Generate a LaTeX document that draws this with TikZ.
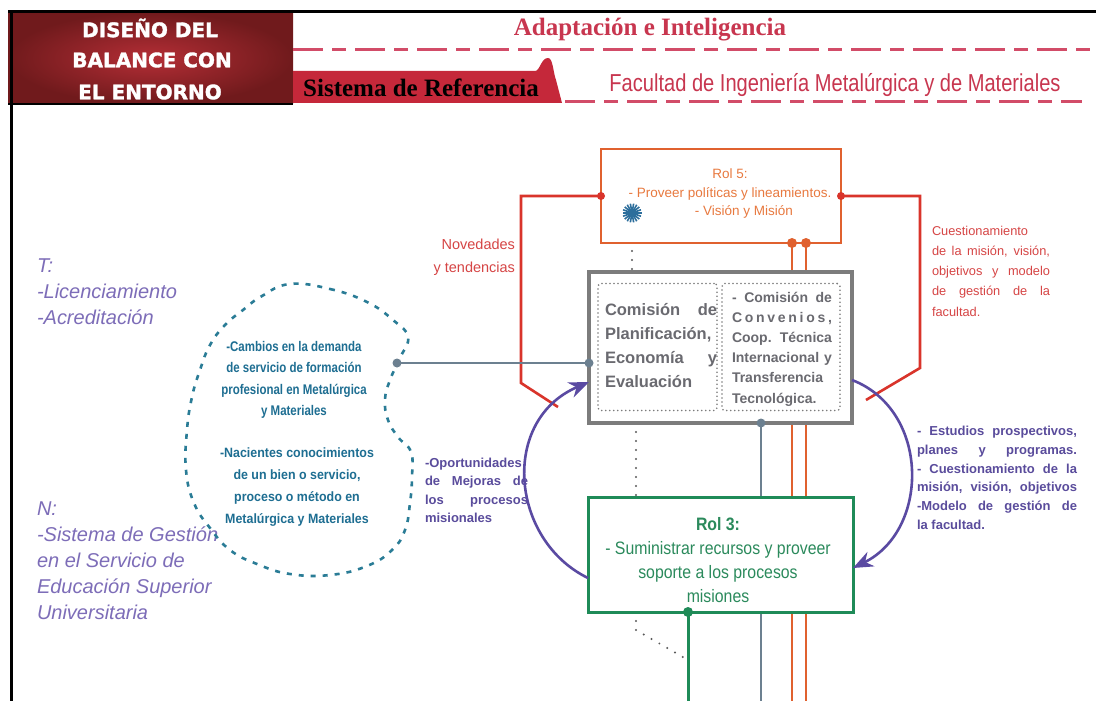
\documentclass[tikz,border=0pt]{standalone}
\usepackage{fontspec}
\setmainfont{Liberation Sans}
\newfontfamily\hdfont[FakeBold=1.6]{DejaVu Sans}
\newfontfamily\titleserif{Liberation Serif}
\newfontfamily\facfont[FakeStretch=0.82]{Liberation Sans}
\newfontfamily\condA[FakeStretch=0.82]{Liberation Sans}
\newfontfamily\condB[FakeStretch=0.92]{Liberation Sans}
\newfontfamily\rolfont[FakeStretch=0.88]{Liberation Sans}
\usetikzlibrary{arrows.meta}
\pgfdeclarelayer{bg}
\pgfsetlayers{bg,main}
\hyphenpenalty=10000

\definecolor{hddark}{HTML}{701A1C}
\definecolor{hdlight}{HTML}{B42E36}
\definecolor{crimson}{HTML}{C8364F}
\definecolor{dashpink}{HTML}{D24C68}
\definecolor{tabred}{HTML}{C5283A}
\definecolor{rolorange}{HTML}{E0612F}
\definecolor{roltext}{HTML}{E8793F}
\definecolor{linered}{HTML}{D9342B}
\definecolor{txtred}{HTML}{D64545}
\definecolor{boxgray}{HTML}{7C7C7C}
\definecolor{txtgray}{HTML}{6A6A70}
\definecolor{slateline}{HTML}{6C8090}
\definecolor{blobtext}{HTML}{1E6E92}
\definecolor{blobline}{HTML}{2A7C96}
\definecolor{lavender}{HTML}{7D6DB8}
\definecolor{violettext}{HTML}{5A4C9C}
\definecolor{arcviolet}{HTML}{5A4AA2}
\definecolor{rolgreen}{HTML}{1F8B58}
\definecolor{greentext}{HTML}{2B8A5C}
\definecolor{starblue}{HTML}{2C6E9C}

\begin{document}
\begin{tikzpicture}[x=1pt,y=-1pt,
  plain/.style={inner sep=0pt, outer sep=0pt},
  hdtext/.style={plain, text=white, font=\hdfont\bfseries\fontsize{20}{24}\selectfont},
  dashline/.style={dashpink, line width=3pt, dash pattern=on 30pt off 9pt on 14pt off 9pt},
  rolebox/.style={plain, draw, fill=white, line width=2.6pt},
  dotbox/.style={plain, draw=boxgray, line width=1.8pt, dash pattern=on 0pt off 4pt, line cap=round, rounded corners=3pt},
  dotline/.style={black!65, line width=2.2pt, dash pattern=on 0pt off 9pt, line cap=round},
  redline/.style={linered, line width=2.6pt},
  orangeline/.style={rolorange, line width=2.8pt},
  arcline/.style={arcviolet, line width=2.6pt, -{Stealth[length=20pt,width=16pt]}},
  sidetext/.style={plain, text=lavender, align=left, font=\itshape\fontsize{20}{26}\selectfont},
]
\useasboundingbox (0,0) rectangle (1096,701);
\begin{pgfonlayer}{bg}
  \fill[white] (0,0) rectangle (1096,701);
\end{pgfonlayer}

% ---------- header ----------
\shade[inner color=hdlight, outer color=hddark] (8,12) rectangle (293,104);
\node[hdtext] (h1) at (150,28) {DISEÑO DEL};
\node[hdtext] (h2) at (152,60) {BALANCE CON};
\node[hdtext] (h3) at (150,92) {EL ENTORNO};
\draw[line width=3pt] (8,12) -- (1096,12);
\draw[line width=3pt] (11,12) -- (11,701);
\draw[line width=2pt] (8,104) -- (293,104);

\node[plain, text=crimson, font=\titleserif\bfseries\fontsize{25}{29}\selectfont] (title) at (650,30) {Adaptación e Inteligencia};
\draw[dashline] (293,50) -- (1096,50);

\fill[tabred] (293,71) -- (535,71) .. controls (540,71) and (541,58) .. (548,58)
  .. controls (553,58) and (553,72) .. (556,80) -- (562,103) -- (293,103) -- cycle;
\node[plain, text=black, font=\titleserif\bfseries\fontsize{25}{29}\selectfont] (ref) at (421,88) {Sistema de Referencia};
\node[plain, text=crimson, font=\facfont\fontsize{24.5}{28}\selectfont] (fac) at (835,85) {Facultad de Ingeniería Metalúrgica y de Materiales};
\draw[dashline] (565,102) -- (1082,102);

% ---------- boxes ----------
\node[rolebox, draw=rolorange, minimum width=240pt, minimum height=94pt] (r5) at (721,196) {};
\node[plain, align=center, text=roltext, font=\fontsize{13.5}{18.5}\selectfont] (r5txt) at (730,194)
  {Rol 5:\\- Proveer políticas y lineamientos.\\\hspace*{28pt}- Visión y Misión};

\node[plain, draw=boxgray, fill=white, line width=3.6pt, minimum width=263pt, minimum height=151pt] (gb) at (720.5,347.5) {};
\node[dotbox, minimum width=119pt, minimum height=127pt] (gbl) at (657.5,347) {};
\node[dotbox, minimum width=118pt, minimum height=127pt] (gbr) at (781,347) {};
\node[plain, text width=112pt, align=justify, text=txtgray, font=\bfseries\fontsize{16.5}{24}\selectfont] (gbltxt) at (661,346)
  {Comisión de\linebreak Planificación,\linebreak Economía y\linebreak Evaluación};
\node[plain, text width=100pt, align=justify, text=txtgray, font=\bfseries\fontsize{14}{20.2}\selectfont] (gbrtxt) at (782,349)
  {- Comisión de\linebreak C\hfil o\hfil n\hfil v\hfil e\hfil n\hfil i\hfil o\hfil s\hfil ,\linebreak Coop. Técnica\linebreak Internacional y\linebreak Transferencia\linebreak Tecnológica.};

\node[rolebox, draw=rolgreen, line width=3pt, minimum width=265pt, minimum height=115pt] (r3) at (720.5,554.5) {};
\node[plain, align=center, text=greentext, font=\rolfont\fontsize{18}{24}\selectfont] (r3txt) at (718,560)
  {\textbf{Rol 3:}\\- Suministrar recursos y proveer\\soporte a los procesos\\misiones};

% asterisk mark under Rol 5 text
\node[plain, circle, fill=starblue, minimum size=7pt] (star) at (632,213) {};
\foreach \a in {0,20,...,340} \draw[starblue, line width=1.6pt] (star.center) -- ++(\a:9.5pt);

% ---------- side texts ----------
\node[sidetext, anchor=north west] (ttxt) at (37,259) {T:\\-Licenciamiento\\-Acreditación};
\node[sidetext, anchor=north west] (ntxt) at (37,502) {N:\\-Sistema de Gestión\\en el Servicio de\\Educación Superior\\Universitaria};

\node[plain, align=right, text=txtred, font=\fontsize{14.5}{23}\selectfont, anchor=east] (nov) at (515,257) {Novedades\\y tendencias};
\node[plain, text width=118pt, align=justify, text=txtred, font=\fontsize{12.8}{20.2}\selectfont, anchor=north west] (cuest) at (932,226)
  {Cuestionamiento\linebreak de la misión, visión,\linebreak objetivos y modelo\linebreak de gestión de la\linebreak facultad.};
\node[plain, text width=160pt, align=justify, text=violettext, font=\bfseries\fontsize{13}{18.8}\selectfont, anchor=north west] (estud) at (917,426)
  {- Estudios prospectivos,\linebreak planes y programas.\linebreak - Cuestionamiento de la\linebreak misión, visión, objetivos\linebreak -Modelo de gestión de\linebreak la facultad.};
\node[plain, text width=103pt, align=justify, text=violettext, font=\bfseries\fontsize{13}{18.3}\selectfont, anchor=north west] (oport) at (425,458)
  {-Oportunidades\linebreak de Mejoras de\linebreak los procesos\linebreak misionales};

% dashed cloud of environment changes
\draw[blobline, line width=2.6pt, dash pattern=on 5pt off 7pt] plot[smooth cycle, tension=0.75] coordinates {
  (290,284) (330,289) (367,302) (393,320) (408,337) (400,358) (390,380) (385,400)
  (388,420) (398,437) (411,452) (412,477) (410,503) (405,530) (392,550) (367,566)
  (330,575) (290,574) (257,564) (230,550) (210,528) (194,503) (186,470) (187,430)
  (192,397) (200,370) (210,345) (225,325) (243,310) (262,296)};
\node[plain, align=center, text=blobtext, font=\condA\bfseries\fontsize{14}{21.5}\selectfont] (cloud1) at (294,380)
  {-Cambios en la demanda\\de servicio de formación\\profesional en Metalúrgica\\y Materiales};
\node[plain, align=center, text=blobtext, font=\condB\bfseries\fontsize{13.5}{22}\selectfont] (cloud2) at (297,487)
  {-Nacientes conocimientos\\de un bien o servicio,\\proceso o método en\\Metalúrgica y Materiales};
\coordinate (cloudport) at (397,363);

% ---------- connectors ----------
\coordinate (lredend) at (558,407);
\coordinate (rredend) at (866,400);
\coordinate (o1top) at (r5.south -| 792,0);
\coordinate (o2top) at (r5.south -| 806,0);
\coordinate (slatetop) at (gb.south -| 761,0);
\coordinate (greentop) at (r3.south -| 688,0);

\begin{pgfonlayer}{bg}
  \draw[redline] (r5.west) -- (521,196) -- (521,383) -- (lredend);
  \draw[redline] (r5.east) -- (920,196) -- (920,368) -- (rredend);
  \draw[orangeline] (o1top) -- (792,701);
  \draw[orangeline] (o2top) -- (806,701);
  \draw[slateline, line width=2.6pt] (cloudport) -- (gb.west |- cloudport);
  \draw[slateline, line width=2.4pt] (slatetop) -- (761,701);
  \draw[rolgreen, line width=3pt] (greentop) -- (688,701);
  \draw[dotline] (632,224) -- (gb.north -| 632,0);
  \draw[dotline] (gb.south -| 636,0) -- (r3.north -| 636,0);
  \draw[dotline] (r3.south -| 636,0) -- (636,630) -- (688,660);
\end{pgfonlayer}

\draw[arcline] (r3.west |- 0,578) .. controls (510,540) and (500,420) .. (gb.west |- 0,382);
\draw[arcline] (gb.east |- 0,380) .. controls (930,410) and (930,530) .. (r3.east |- 0,568);

% junction dots
\fill[linered] (r5.west) circle (4pt);
\fill[linered] (r5.east) circle (4pt);
\fill[rolorange] (o1top) circle (5pt);
\fill[rolorange] (o2top) circle (5pt);
\fill[slateline] (cloudport) circle (4.5pt);
\fill[slateline] (gb.west |- cloudport) circle (4.5pt);
\fill[slateline] (slatetop) circle (4.5pt);
\fill[rolgreen] (greentop) circle (5pt);
\end{tikzpicture}
\end{document}
